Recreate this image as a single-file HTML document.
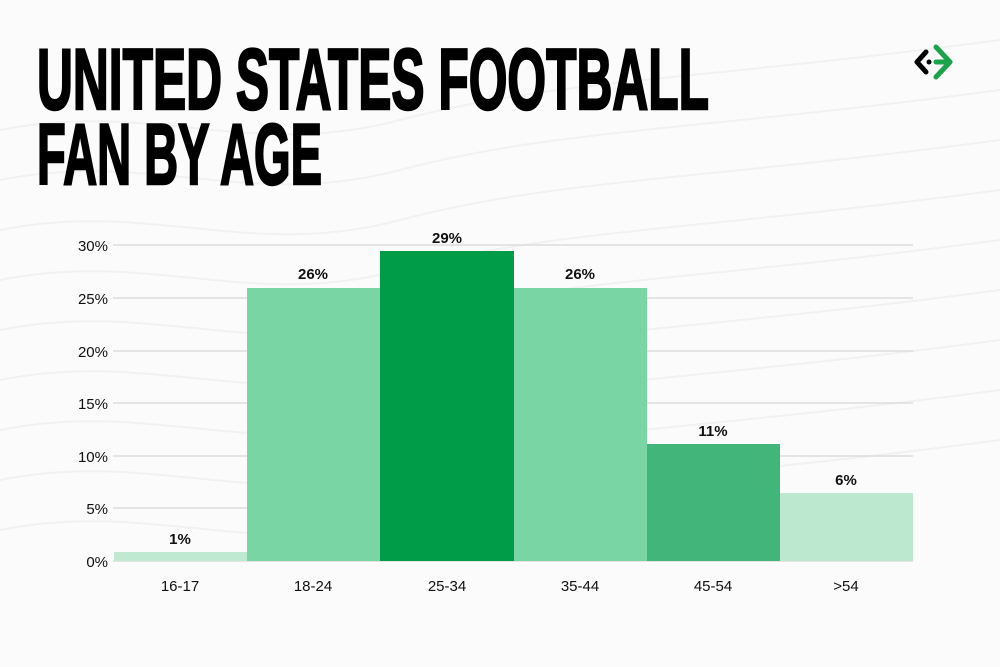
<!DOCTYPE html>
<html><head><style>
html,body{margin:0;padding:0;background:#fff;}
svg{display:block;}
</style></head><body>
<svg width="1000" height="667" viewBox="0 0 1000 667" xmlns="http://www.w3.org/2000/svg">
<rect width="1000" height="667" fill="#fbfbfb"/>
<g fill="none" stroke="#f1f1f1" stroke-width="2">
<path d="M0 230 C150 200 250 260 400 220 S700 180 1000 140"/>
<path d="M0 280 C150 250 250 310 400 270 S700 230 1000 190"/>
<path d="M0 330 C150 300 250 360 400 320 S700 280 1000 240"/>
<path d="M0 380 C150 350 250 410 400 370 S700 330 1000 290"/>
<path d="M0 430 C150 400 250 460 400 420 S700 380 1000 340"/>
<path d="M0 480 C150 450 250 510 400 470 S700 430 1000 390"/>
<path d="M0 530 C150 500 250 560 400 520 S700 480 1000 440"/>
<path d="M0 180 C150 150 250 210 400 170 S700 130 1000 90"/>
<path d="M0 130 C150 100 250 160 400 120 S700 80 1000 40"/>
</g>
<g font-family="'Liberation Sans Narrow','Liberation Sans',sans-serif" font-weight="bold" font-size="86" fill="#000" stroke="#000" stroke-width="2.5">
<text x="37" y="109" textLength="672" lengthAdjust="spacingAndGlyphs">UNITED STATES FOOTBALL</text>
<text x="37" y="184" textLength="285" lengthAdjust="spacingAndGlyphs">FAN BY AGE</text>
</g>
<g fill="none" stroke-width="5" stroke-linecap="round" stroke-linejoin="round">
<path d="M926 52 L917 62 L926 72" stroke="#000"/>
<path d="M936 47 L950 62 L936 77" stroke="#1aa34a"/>
<line x1="936" y1="62" x2="947" y2="62" stroke="#1aa34a"/>
</g>
<circle cx="929" cy="62" r="2.5" fill="#000"/>
<g stroke="#dddddd" stroke-width="1.5">
<line x1="113" y1="245" x2="913" y2="245"/>
<line x1="113" y1="298" x2="913" y2="298"/>
<line x1="113" y1="351" x2="913" y2="351"/>
<line x1="113" y1="403" x2="913" y2="403"/>
<line x1="113" y1="456" x2="913" y2="456"/>
<line x1="113" y1="508" x2="913" y2="508"/>
<line x1="113" y1="561" x2="913" y2="561"/>
</g>
<g font-family="'Liberation Sans',sans-serif" font-size="15" fill="#111" text-anchor="end">
<text x="108" y="251">30%</text>
<text x="108" y="304">25%</text>
<text x="108" y="357">20%</text>
<text x="108" y="409">15%</text>
<text x="108" y="462">10%</text>
<text x="108" y="514">5%</text>
<text x="108" y="567">0%</text>
</g>
<rect x="114" y="552" width="133" height="9" fill="#c0e9d2"/>
<rect x="247" y="288" width="133" height="273" fill="#79d5a4"/>
<rect x="380" y="251" width="134" height="310" fill="#009c48"/>
<rect x="514" y="288" width="133" height="273" fill="#79d5a4"/>
<rect x="647" y="444" width="133" height="117" fill="#41b57a"/>
<rect x="780" y="493" width="133" height="68" fill="#bde8d0"/>
<g font-family="'Liberation Sans',sans-serif" font-weight="bold" font-size="15" fill="#111" text-anchor="middle">
<text x="180" y="544">1%</text>
<text x="313" y="279">26%</text>
<text x="447" y="243">29%</text>
<text x="580" y="279">26%</text>
<text x="713" y="436">11%</text>
<text x="846" y="485">6%</text>
</g>
<g font-family="'Liberation Sans',sans-serif" font-size="15" fill="#111" text-anchor="middle">
<text x="180" y="591">16-17</text>
<text x="313" y="591">18-24</text>
<text x="447" y="591">25-34</text>
<text x="580" y="591">35-44</text>
<text x="713" y="591">45-54</text>
<text x="846" y="591">&gt;54</text>
</g>
</svg>
</body></html>
